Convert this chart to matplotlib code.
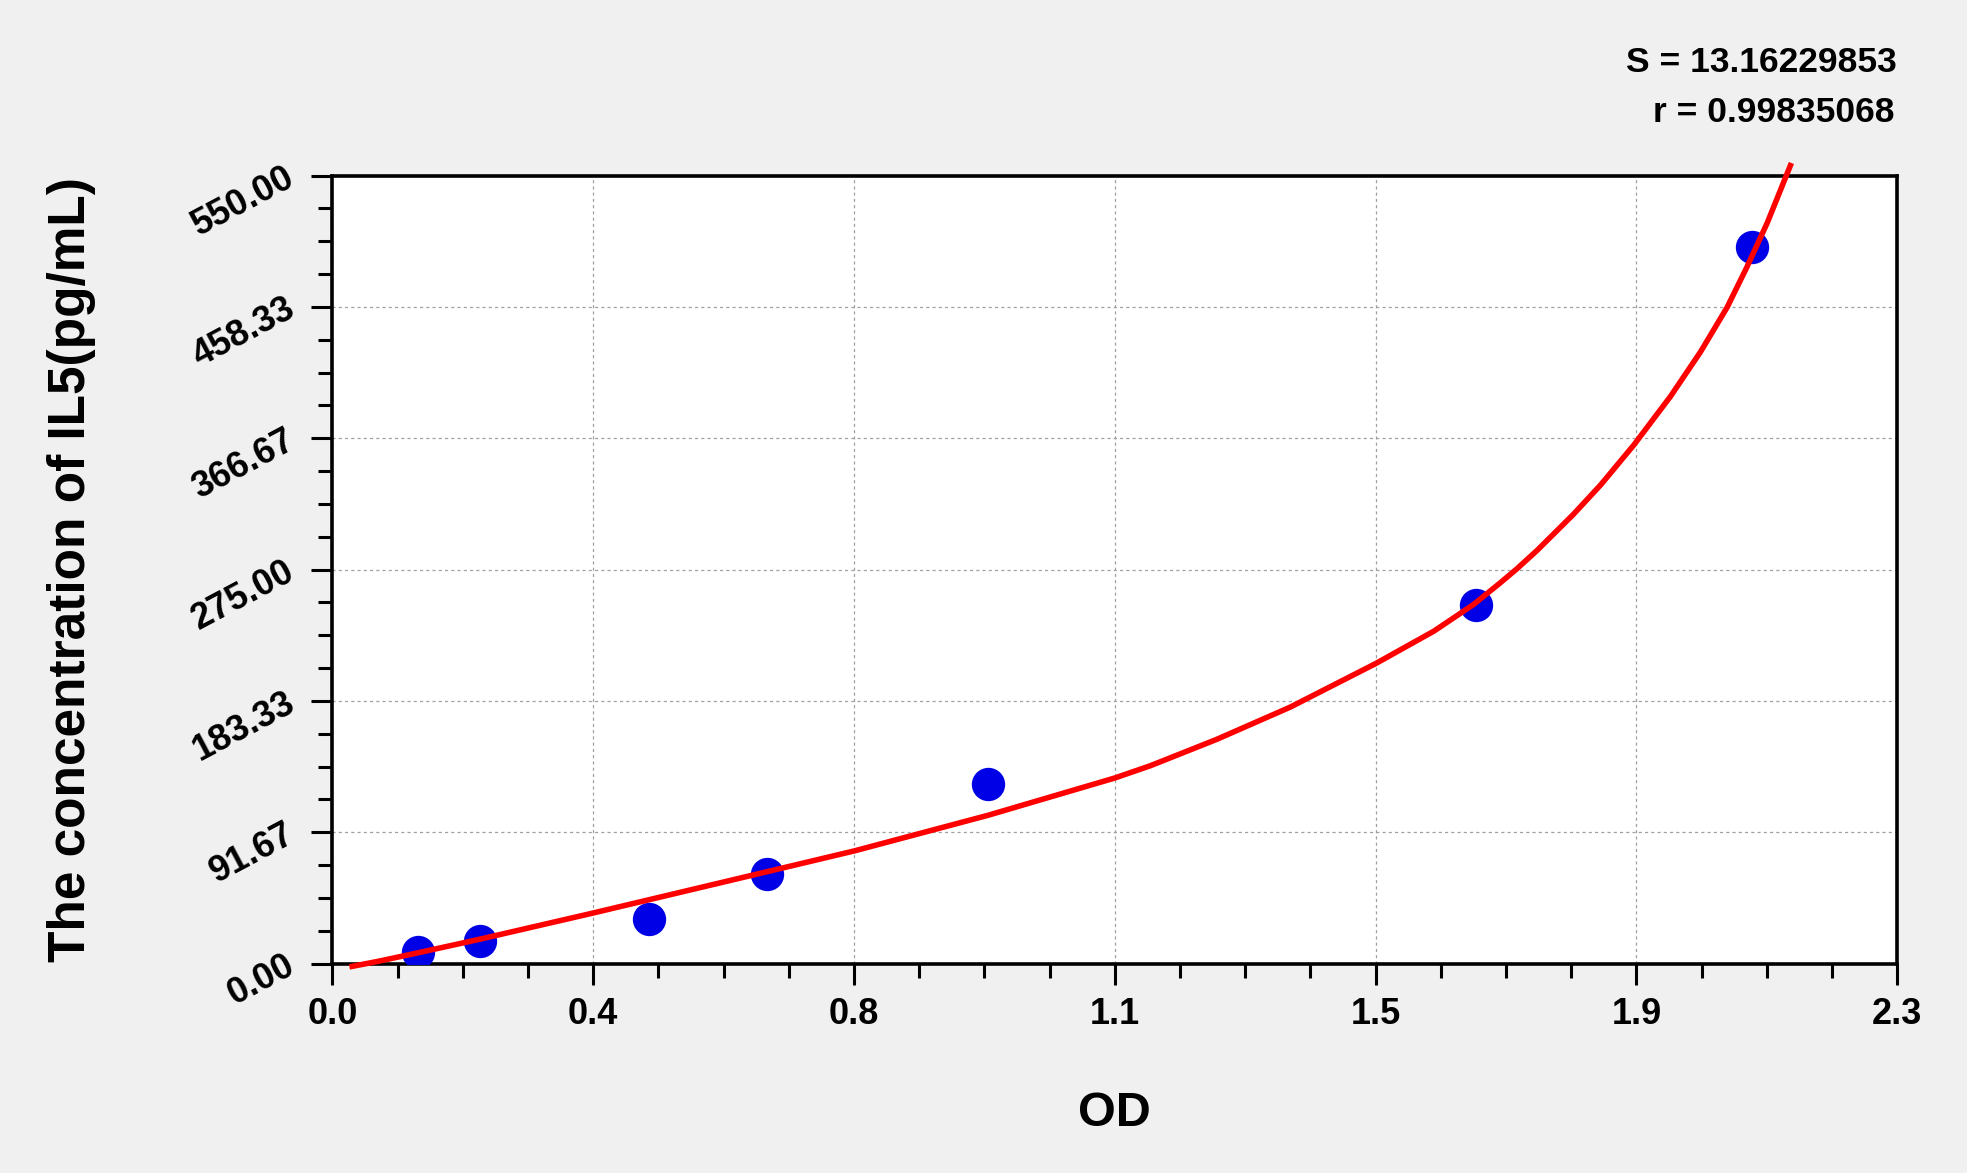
import matplotlib
matplotlib.use("Agg")
import matplotlib.pyplot as plt
import numpy as np

# Standards: OD readings and known concentrations (pg/mL)
od = [0.126, 0.217, 0.465, 0.639, 0.963, 1.681, 2.087]
conc = [7.8, 15.6, 31.25, 62.5, 125.0, 250.0, 500.0]

# Fitted curve
fit_od = [0.029, 0.067, 0.126, 0.217, 0.381, 0.639, 0.768, 0.964, 1.150,
          1.202, 1.300, 1.408, 1.534, 1.619, 1.677, 1.716, 1.741, 1.771,
          1.824, 1.864, 1.913, 1.967, 2.011, 2.050, 2.079, 2.109, 2.143]
fit_conc = [-2.0, 1.5, 7.5, 17.0, 35.0, 64.1, 78.7, 103.5, 129.5,
            138.0, 156.5, 179.0, 209.5, 232.0, 250.5, 265.5, 275.5, 288.5,
            313.5, 334.0, 362.0, 396.0, 427.0, 458.0, 486.0, 517.0, 557.0]

xtick_labels = ["0.0", "0.4", "0.8", "1.1", "1.5", "1.9", "2.3"]
ytick_labels = ["0.00", "91.67", "183.33", "275.00", "366.67", "458.33", "550.00"]

S_TEXT = "S = 13.16229853"
R_TEXT = "r = 0.99835068"

plt.rcParams["font.family"] = ["Liberation Sans", "DejaVu Sans"]
plt.rcParams["font.weight"] = "bold"

XMAX, YMAX = 2.3, 550.0

fig = plt.figure(figsize=(19.67, 11.73), dpi=100, facecolor="#f0f0f0")
ax = fig.add_axes([0.169, 0.1786, 0.7955, 0.6717])
ax.set_facecolor("white")
ax.set_axisbelow(True)

ax.set_xlim(0, XMAX)
ax.set_ylim(0, YMAX)
ax.set_xticks(np.linspace(0, XMAX, len(xtick_labels)))
ax.set_xticklabels(xtick_labels)
ax.set_yticks(np.linspace(0, YMAX, len(ytick_labels)))
ax.set_yticklabels(ytick_labels)
ax.set_xticks(np.linspace(0, XMAX, 25), minor=True)
ax.set_yticks(np.linspace(0, YMAX, 25), minor=True)

ax.grid(True, which="major", color="#a0a0a0", linestyle=(0, (2.5, 2.5)), linewidth=0.9)

for sp in ax.spines.values():
    sp.set_linewidth(2.6)
    sp.set_color("black")

ax.tick_params(axis="both", which="major", direction="out", length=15, width=2.2,
               labelsize=26, top=False, right=False)
ax.tick_params(axis="both", which="minor", direction="out", length=10, width=2.2,
               top=False, right=False)
ax.tick_params(axis="x", which="major", pad=9)
ax.tick_params(axis="y", which="major", pad=14)
for label in ax.get_yticklabels():
    label.set(rotation=28, ha="right", va="center", rotation_mode="anchor")

# Data
ax.plot(od, conc, "o", ms=24, color="#0000e6", mec="none", zorder=3)
ax.plot(fit_od, fit_conc, "-", color="#ff0000", lw=4, clip_on=False,
        solid_joinstyle="round", zorder=4)

ax.set_xlabel("OD", fontsize=35, fontweight="bold")
ax.xaxis.label.set_va("center")
ax.xaxis.set_label_coords(0.5, -0.19)
ax.set_ylabel("The concentration of IL5(pg/mL)", fontsize=37, fontweight="bold")
ax.yaxis.label.set_va("center")
ax.yaxis.set_label_coords(-0.167, 0.5)

fig.text(0.9644, 0.9463, S_TEXT, ha="right", va="center", fontsize=25.5, fontweight="bold")
fig.text(0.9630, 0.9037, R_TEXT, ha="right", va="center", fontsize=25.5, fontweight="bold")

fig.savefig("out.png", dpi=100, facecolor=fig.get_facecolor())
